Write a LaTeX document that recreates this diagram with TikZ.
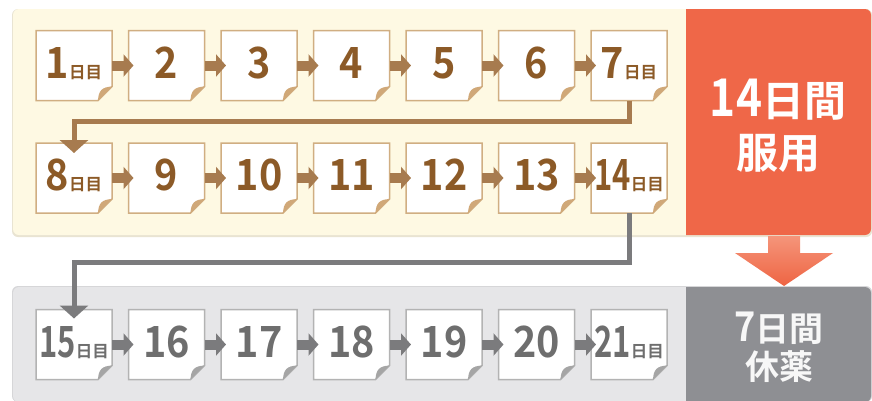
\documentclass[tikz,border=0pt]{standalone}
\usepackage{fontspec}
\usepackage{graphicx}
\setmainfont{Noto Sans CJK JP}[BoldFont={Noto Sans CJK JP Bold}]
\usetikzlibrary{arrows.meta}
\definecolor{cream}{HTML}{FEF9E3}
\definecolor{creamshadow}{HTML}{E9E4D2}
\definecolor{grpanel}{HTML}{E6E6E8}
\definecolor{grshadow}{HTML}{D6D6D8}
\definecolor{redbox}{HTML}{EF6748}
\definecolor{darkbox}{HTML}{8E8F93}
\definecolor{bborder}{HTML}{D0AE82}
\definecolor{bfoldc}{HTML}{D0A878}
\definecolor{btextc}{HTML}{8C5A27}
\definecolor{barrowc}{HTML}{A77B4F}
\definecolor{gborder}{HTML}{B3B3B3}
\definecolor{gfoldc}{HTML}{A5A5A5}
\definecolor{gtextc}{HTML}{6E6E6E}
\definecolor{garrowc}{HTML}{7B7B7D}
\definecolor{arrowtop}{HTML}{F5957A}
\definecolor{arrowbot}{HTML}{EE6443}
\newcommand\pg[5]{%
  \begin{scope}[shift={(#2,#3)}]
    \filldraw[#4body] (-38,-35) -- (38,-35) -- (38,21) -- (24,35) -- (-38,35) -- cycle;
    \fill[#4fold] (38,21) -- (24,35) .. controls (24.5,25) and (28,21.5) .. (38,21) -- cycle;
    \node[boxnode] (#1) at (0,0) {};
    \node[#4text] (l#1) at (0,12.5) {#5};
  \end{scope}}
\newcommand\Dn[1]{{\fontsize{43}{43}\selectfont\scalebox{0.92}[1]{#1}}}
\newcommand\Dj{{\fontsize{16.5}{16.5}\selectfont 日目}}
\newcommand\Dc[1]{{\fontsize{43}{43}\selectfont\scalebox{0.72}[1]{#1}}}
\begin{document}
\begin{tikzpicture}[x=1pt,y=-1pt,
  bbody/.style={fill=white,draw=bborder,line width=1.5pt,line join=miter},
  gbody/.style={fill=white,draw=gborder,line width=1.5pt,line join=miter},
  bfold/.style={fill=bfoldc},
  gfold/.style={fill=gfoldc},
  boxnode/.style={draw=none,minimum width=76pt,minimum height=70pt,inner sep=0pt,outer sep=0pt},
  btext/.style={anchor=base,inner sep=0pt,text=btextc,font=\bfseries},
  gtext/.style={anchor=base,inner sep=0pt,text=gtextc,font=\bfseries},
  barrow/.style={draw=barrowc,line width=10pt,-{Triangle[width=22pt,length=10pt]}},
  garrow/.style={draw=garrowc,line width=10pt,-{Triangle[width=22pt,length=10pt]}},
  bconn/.style={draw=barrowc,line width=5pt,-{Triangle[width=28pt,length=13pt]}},
  gconn/.style={draw=garrowc,line width=5pt,-{Triangle[width=28pt,length=13pt]}},
  bigtxt/.style={text=white,font=\bfseries\fontsize{42}{52}\selectfont,align=center,inner sep=0pt},
  midtxt/.style={text=white!97!black,font=\bfseries\fontsize{34}{38}\selectfont,align=center,inner sep=0pt}]
\useasboundingbox (0,0) rectangle (872,400);
\fill[white] (0,0) rectangle (872,400);
% panels
\fill[creamshadow,rounded corners=6pt] (12,9) rectangle (872,237);
\fill[cream,rounded corners=6pt] (13,9) rectangle (871,235);
\fill[redbox] (686,9) [rounded corners=6pt] -- (871,9) -- (871,235) [sharp corners] -- (686,235) -- cycle;
\fill[grshadow,rounded corners=6pt] (12,286) rectangle (872,402);
\fill[grpanel,rounded corners=6pt] (13,287) rectangle (871,402);
\fill[darkbox] (686,287) [rounded corners=6pt] -- (871,287) -- (871,402) [sharp corners] -- (686,402) -- cycle;
% orange arrow
\shade[top color=arrowtop,bottom color=arrowbot] (768,236) -- (800,236) -- (800,253) -- (833,253) -- (784,286) -- (735,253) -- (768,253) -- cycle;
% pages row 1
\pg{b1}{74}{65.5}{b}{\Dn{1}\Dj}
\pg{b2}{166.5}{65.5}{b}{\Dn{2}}
\pg{b3}{259}{65.5}{b}{\Dn{3}}
\pg{b4}{351.5}{65.5}{b}{\Dn{4}}
\pg{b5}{444}{65.5}{b}{\Dn{5}}
\pg{b6}{536.5}{65.5}{b}{\Dn{6}}
\pg{b7}{629}{65.5}{b}{\Dn{7}\Dj}
% row 2
\pg{b8}{74}{178}{b}{\Dn{8}\Dj}
\pg{b9}{166.5}{178}{b}{\Dn{9}}
\pg{b10}{259}{178}{b}{\Dn{10}}
\pg{b11}{351.5}{178}{b}{\Dn{11}}
\pg{b12}{444}{178}{b}{\Dn{12}}
\pg{b13}{536.5}{178}{b}{\Dn{13}}
\pg{b14}{629}{178}{b}{\Dc{14}\Dj}
% row 3
\pg{b15}{74}{344.5}{g}{\Dc{15}\Dj}
\pg{b16}{166.5}{344.5}{g}{\Dn{16}}
\pg{b17}{259}{344.5}{g}{\Dn{17}}
\pg{b18}{351.5}{344.5}{g}{\Dn{18}}
\pg{b19}{444}{344.5}{g}{\Dn{19}}
\pg{b20}{536.5}{344.5}{g}{\Dn{20}}
\pg{b21}{629}{344.5}{g}{\Dc{21}\Dj}
% small arrows
\foreach \a/\b in {1/2,2/3,3/4,4/5,5/6,6/7,8/9,9/10,10/11,11/12,12/13,13/14}
  \draw[barrow] (b\a.east) -- ([xshift=5pt]b\b.west);
\foreach \a/\b in {15/16,16/17,17/18,18/19,19/20,20/21}
  \draw[garrow] (b\a.east) -- ([xshift=5pt]b\b.west);
% connectors
\coordinate (t8) at ([yshift=-10pt]b8.north);
\coordinate (t15) at ([yshift=-9pt]b15.north);
\draw[bconn] (b7.south) -- ++(0,21) -| (t8);
\draw[gconn] (b14.south) -- ++(0,49) -| (t15);
% labels
\node[bigtxt] (lab1) at (778,126) {{\fontsize{52}{52}\selectfont\scalebox{0.85}[1]{14}}日間\\服用};
\node[midtxt] (lab2) at (779,347) {{\fontsize{41}{41}\selectfont\scalebox{0.88}[1]{7}}日間\\休薬};
\end{tikzpicture}
\end{document}
